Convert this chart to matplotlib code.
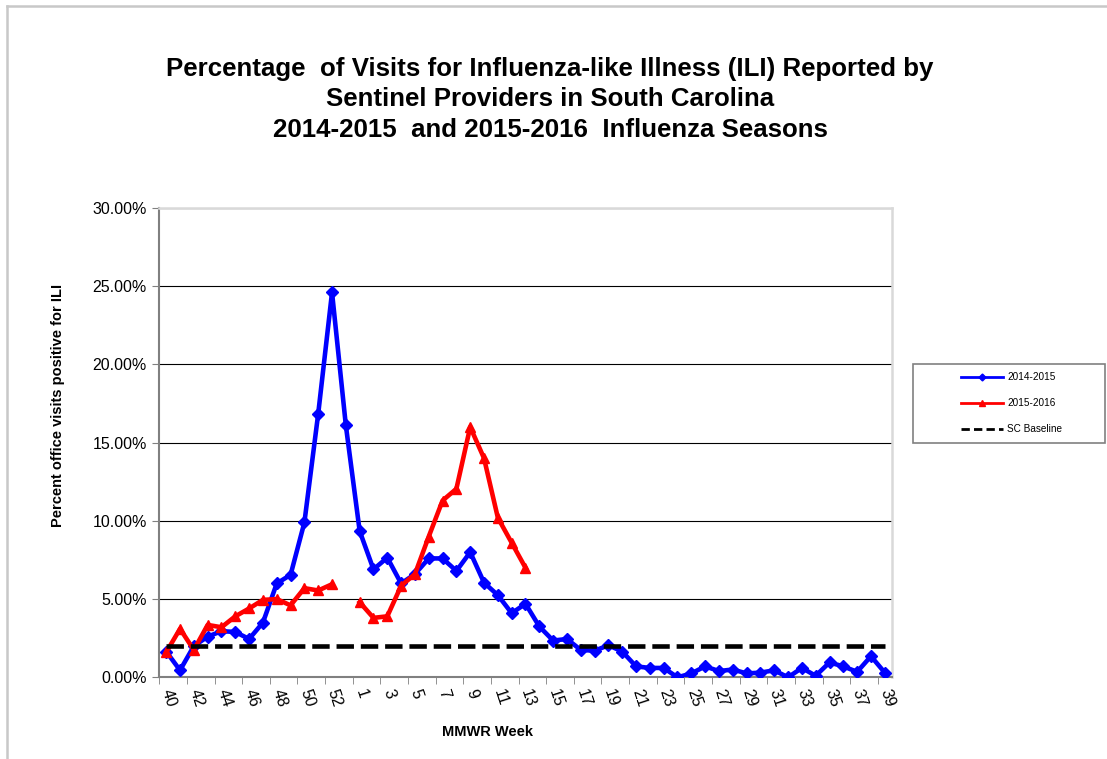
import matplotlib.pyplot as plt
import numpy as np
from matplotlib.lines import Line2D
from matplotlib.patches import Rectangle

plt.rcParams['font.family'] = ['Liberation Sans', 'DejaVu Sans']

# MMWR weeks (2014 had a week 53)
weeks = list(range(40, 54)) + list(range(1, 40))

ili_2014_15 = [1.65, 0.45, 2.0, 2.6, 2.95, 2.9, 2.45, 3.5, 6.0, 6.55, 9.9, 16.85, 24.6, 16.1,
               9.35, 6.9, 7.65, 6.0, 6.6, 7.6, 7.6, 6.8, 8.0, 6.05, 5.25, 4.1, 4.7,
               3.25, 2.35, 2.45, 1.75, 1.7, 2.05, 1.65, 0.7, 0.6, 0.6, 0.0, 0.25, 0.7,
               0.4, 0.5, 0.25, 0.3, 0.45, 0.0, 0.6, 0.1, 0.95, 0.7, 0.35, 1.35, 0.3]

ili_2015_16 = [1.6, 3.1, 1.75, 3.35, 3.2, 3.9, 4.4, 4.95, 5.0, 4.6, 5.7, 5.55, 5.95, np.nan,
               4.8, 3.8, 3.9, 5.85, 6.6, 9.0, 11.3, 12.05, 16.0, 14.0, 10.2, 8.6, 7.0] \
    + [np.nan] * 26

sc_baseline = [2.0] * len(weeks)

x = np.arange(len(weeks))

fig = plt.figure(figsize=(11.07, 7.59), dpi=100)
ax = fig.add_axes([0.1439, 0.1076, 0.6616, 0.6184])

ax.plot(x, ili_2014_15, color='#0000FF', lw=3.3, marker='D', ms=6.5, zorder=3)
ax.plot(x, ili_2015_16, color='#FF0000', lw=3.3, marker='^', ms=7.5, zorder=4)
ax.plot(x, sc_baseline, color='black', lw=3.3, linestyle=(0, (3.8, 1.5)), zorder=5)

# axes look like Excel
ax.set_xlim(-0.5, len(weeks) - 0.5)
ax.set_ylim(0, 30)
ax.set_yticks(np.arange(0, 31, 5))
ax.set_yticklabels(['%.2f%%' % v for v in np.arange(0, 31, 5)], fontsize=11.5)
ax.yaxis.grid(True, color='black', lw=0.8)
ax.set_axisbelow(True)

ax.set_xticks(x[::2])
ax.set_xticklabels([str(w) for w in weeks[::2]], fontsize=11.5, rotation=-72,
                   ha='left', va='center', rotation_mode='anchor')
ax.set_xticks(np.arange(-0.5, len(weeks), 2), minor=True)
ax.tick_params(axis='x', which='major', length=0, pad=9)
ax.tick_params(axis='x', which='minor', length=5, color='#808080', direction='out')
ax.tick_params(axis='y', length=5, color='#808080', direction='out', pad=4)

for side in ['left', 'bottom']:
    ax.spines[side].set_color('#808080')
    ax.spines[side].set_linewidth(1.5)
for side in ['top', 'right']:
    ax.spines[side].set_color('#d9d9d9')
    ax.spines[side].set_linewidth(1.8)

fig.suptitle('Percentage  of Visits for Influenza-like Illness (ILI) Reported by\n'
             'Sentinel Providers in South Carolina\n'
             '2014-2015  and 2015-2016  Influenza Seasons',
             x=0.497, y=0.869, va='center', fontsize=18.6, fontweight='bold',
             linespacing=1.33)

fig.text(0.052, 0.466, 'Percent office visits positive for ILI', rotation=90,
         ha='center', va='center', fontsize=10.5, fontweight='bold')
fig.text(0.44, 0.036, 'MMWR Week', ha='center', va='center', fontsize=10.5,
         fontweight='bold')

# legend in its own box on the right
handles = [Line2D([], [], color='#0000FF', lw=2, marker='D', ms=3.5),
           Line2D([], [], color='#FF0000', lw=2, marker='^', ms=4.5),
           Line2D([], [], color='black', lw=2, linestyle=(0, (3, 1.5)))]
fig.patches.append(Rectangle((913 / 1107, 1 - 443 / 759), 192 / 1107, 79 / 759,
                             transform=fig.transFigure, fill=False,
                             edgecolor='#808080', lw=1.2))
fig.legend(handles, ['2014-2015', '2015-2016', 'SC Baseline'], loc='center',
           bbox_to_anchor=(0.914, 0.469), frameon=False, fontsize=7.2,
           handlelength=4.2, labelspacing=1.6, handletextpad=0.4)

# chart area border (left and top visible)
fig.add_artist(Line2D([6.5 / 1107, 6.5 / 1107], [0, 1 - 5.5 / 759],
                      transform=fig.transFigure, color='#c8c8c8', lw=1.8))
fig.add_artist(Line2D([6.5 / 1107, 1], [1 - 5.5 / 759, 1 - 5.5 / 759],
                      transform=fig.transFigure, color='#c8c8c8', lw=1.8))

fig.savefig('out.png', dpi=100)
